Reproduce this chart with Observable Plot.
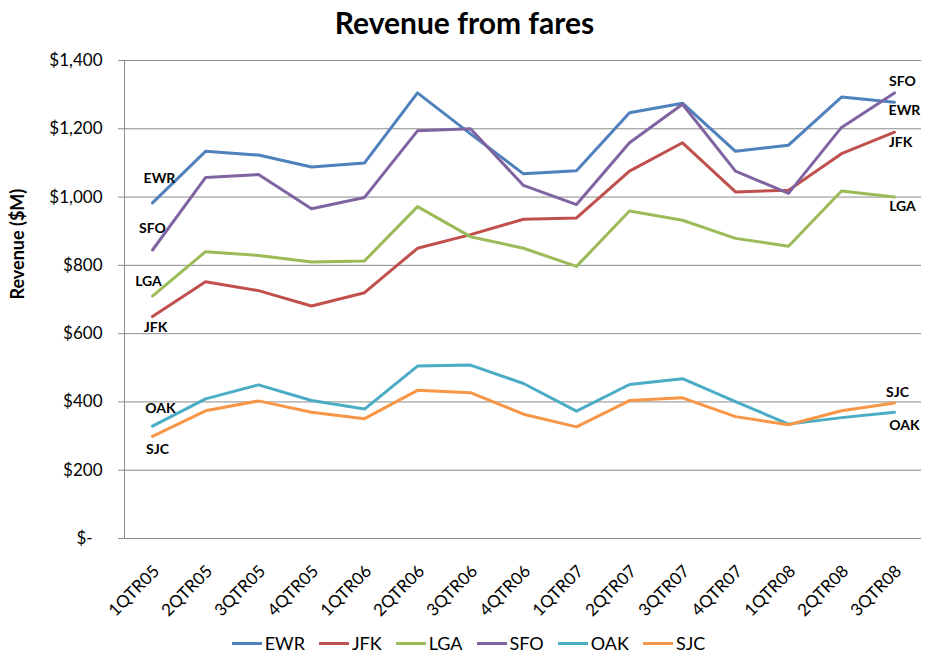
<!DOCTYPE html>
<html><head><meta charset="utf-8">
<script src="https://cdn.jsdelivr.net/npm/d3@7"></script>
<script src="https://cdn.jsdelivr.net/npm/@observablehq/plot@0.6"></script>
<style>
body{margin:0;background:#fff;font-family:Lato,"Open Sans",sans-serif;color:#000;}
#title{height:44px;line-height:44px;text-align:center;font-weight:bold;font-size:30px;}
#chart svg{display:block;}
#legend{display:flex;justify-content:center;align-items:center;height:38px;padding-left:8px;font-size:18px;}
.item{display:flex;align-items:center;margin:0 7px;}
.sw{width:30px;height:3px;margin-right:3px;}
</style></head><body>
<div id="title">Revenue from fares</div>
<div id="chart"></div>
<div id="legend"></div>
<script>
const quarters = ["1QTR05","2QTR05","3QTR05","4QTR05","1QTR06","2QTR06","3QTR06","4QTR06","1QTR07","2QTR07","3QTR07","4QTR07","1QTR08","2QTR08","3QTR08"];
const airports = ["EWR","JFK","LGA","SFO","OAK","SJC"];
const colors = ["#4F81BD","#C0504D","#9BBB59","#8064A2","#4BACC6","#F79646"];
const EWR = [983,1134,1123,1088,1100,1305,1185,1068,1077,1247,1275,1134,1152,1293,1278];
const JFK = [650,752,726,681,720,850,890,935,939,1076,1159,1015,1020,1127,1190];
const LGA = [710,840,829,810,813,972,884,850,797,959,932,879,856,1018,1000];
const SFO = [845,1057,1066,966,999,1194,1200,1034,978,1159,1272,1076,1011,1204,1305];
const OAK = [329,409,450,404,379,505,508,454,373,451,468,401,335,354,370];
const SJC = [299,374,403,370,351,434,427,364,327,404,412,357,333,374,397];
const yTicks = [0,200,400,600,800,1000,1200,1400];

const series = {EWR, JFK, LGA, SFO, OAK, SJC};
const rows = airports.flatMap(a => series[a].map((v, i) => ({airport: a, quarter: quarters[i], value: v})));

// label offsets (style) for start and end labels
const startOff = {EWR:[7,-24], SFO:[0,-21], LGA:[-4,-15], JFK:[3,11], OAK:[8,-18], SJC:[5,13]};
const endOff = {SFO:[8,-11], EWR:[10,8], JFK:[6,10], LGA:[8,9], SJC:[3,-10], OAK:[10,13]};

const labelMarks = [];
for (const a of airports) {
  const first = rows.filter(d => d.airport === a && d.quarter === quarters[0]);
  const last = rows.filter(d => d.airport === a && d.quarter === quarters[quarters.length - 1]);
  labelMarks.push(Plot.text(first, {x: "quarter", y: "value", text: "airport", dx: startOff[a][0], dy: startOff[a][1], fontWeight: "bold", fontSize: 14, fill: "#000"}));
  labelMarks.push(Plot.text(last, {x: "quarter", y: "value", text: "airport", dx: endOff[a][0], dy: endOff[a][1], fontWeight: "bold", fontSize: 14, fill: "#000"}));
}

const fmt = v => v === 0 ? "$-\u2007" : "$" + d3.format(",")(v);

const chart = Plot.plot({
  width: 929,
  height: 580,
  marginTop: 16,
  marginBottom: 86,
  marginLeft: 124,
  marginRight: 8,
  style: {fontFamily: "Lato, 'Open Sans', sans-serif", background: "#fff", overflow: "visible"},
  x: {type: "point", domain: quarters, padding: 0.5, label: null},
  y: {domain: [0, 1400], label: null},
  color: {domain: airports, range: colors},
  marks: [
    Plot.gridY(yTicks, {stroke: "#8c8c8c", strokeOpacity: 1}),
    Plot.axisY(yTicks, {tickFormat: fmt, tickSize: 6, tickPadding: 16, stroke: "#8c8c8c", fontSize: 17, fill: "#000", label: null}),
    Plot.frame({anchor: "left", stroke: "#8c8c8c"}),
    Plot.ruleY([0], {stroke: "#8c8c8c"}),
    Plot.axisX({tickRotate: -45, tickSize: 0, tickPadding: 18, dy: 12, dx: 4, fontSize: 17, fill: "#000", label: null}),
    Plot.line(rows, {x: "quarter", y: "value", z: "airport", stroke: "airport", strokeWidth: 3}),
    ...labelMarks,
    Plot.text(["Revenue ($M)"], {frameAnchor: "left", dx: -106, rotate: -90, fontWeight: "bold", fontSize: 18, fill: "#000"})
  ]
});
document.getElementById("chart").append(chart);

const legend = document.getElementById("legend");
airports.forEach((a, i) => {
  const it = document.createElement("div");
  it.className = "item";
  it.innerHTML = `<div class="sw" style="background:${colors[i]}"></div><span>${a}</span>`;
  legend.append(it);
});
</script>
</body></html>
